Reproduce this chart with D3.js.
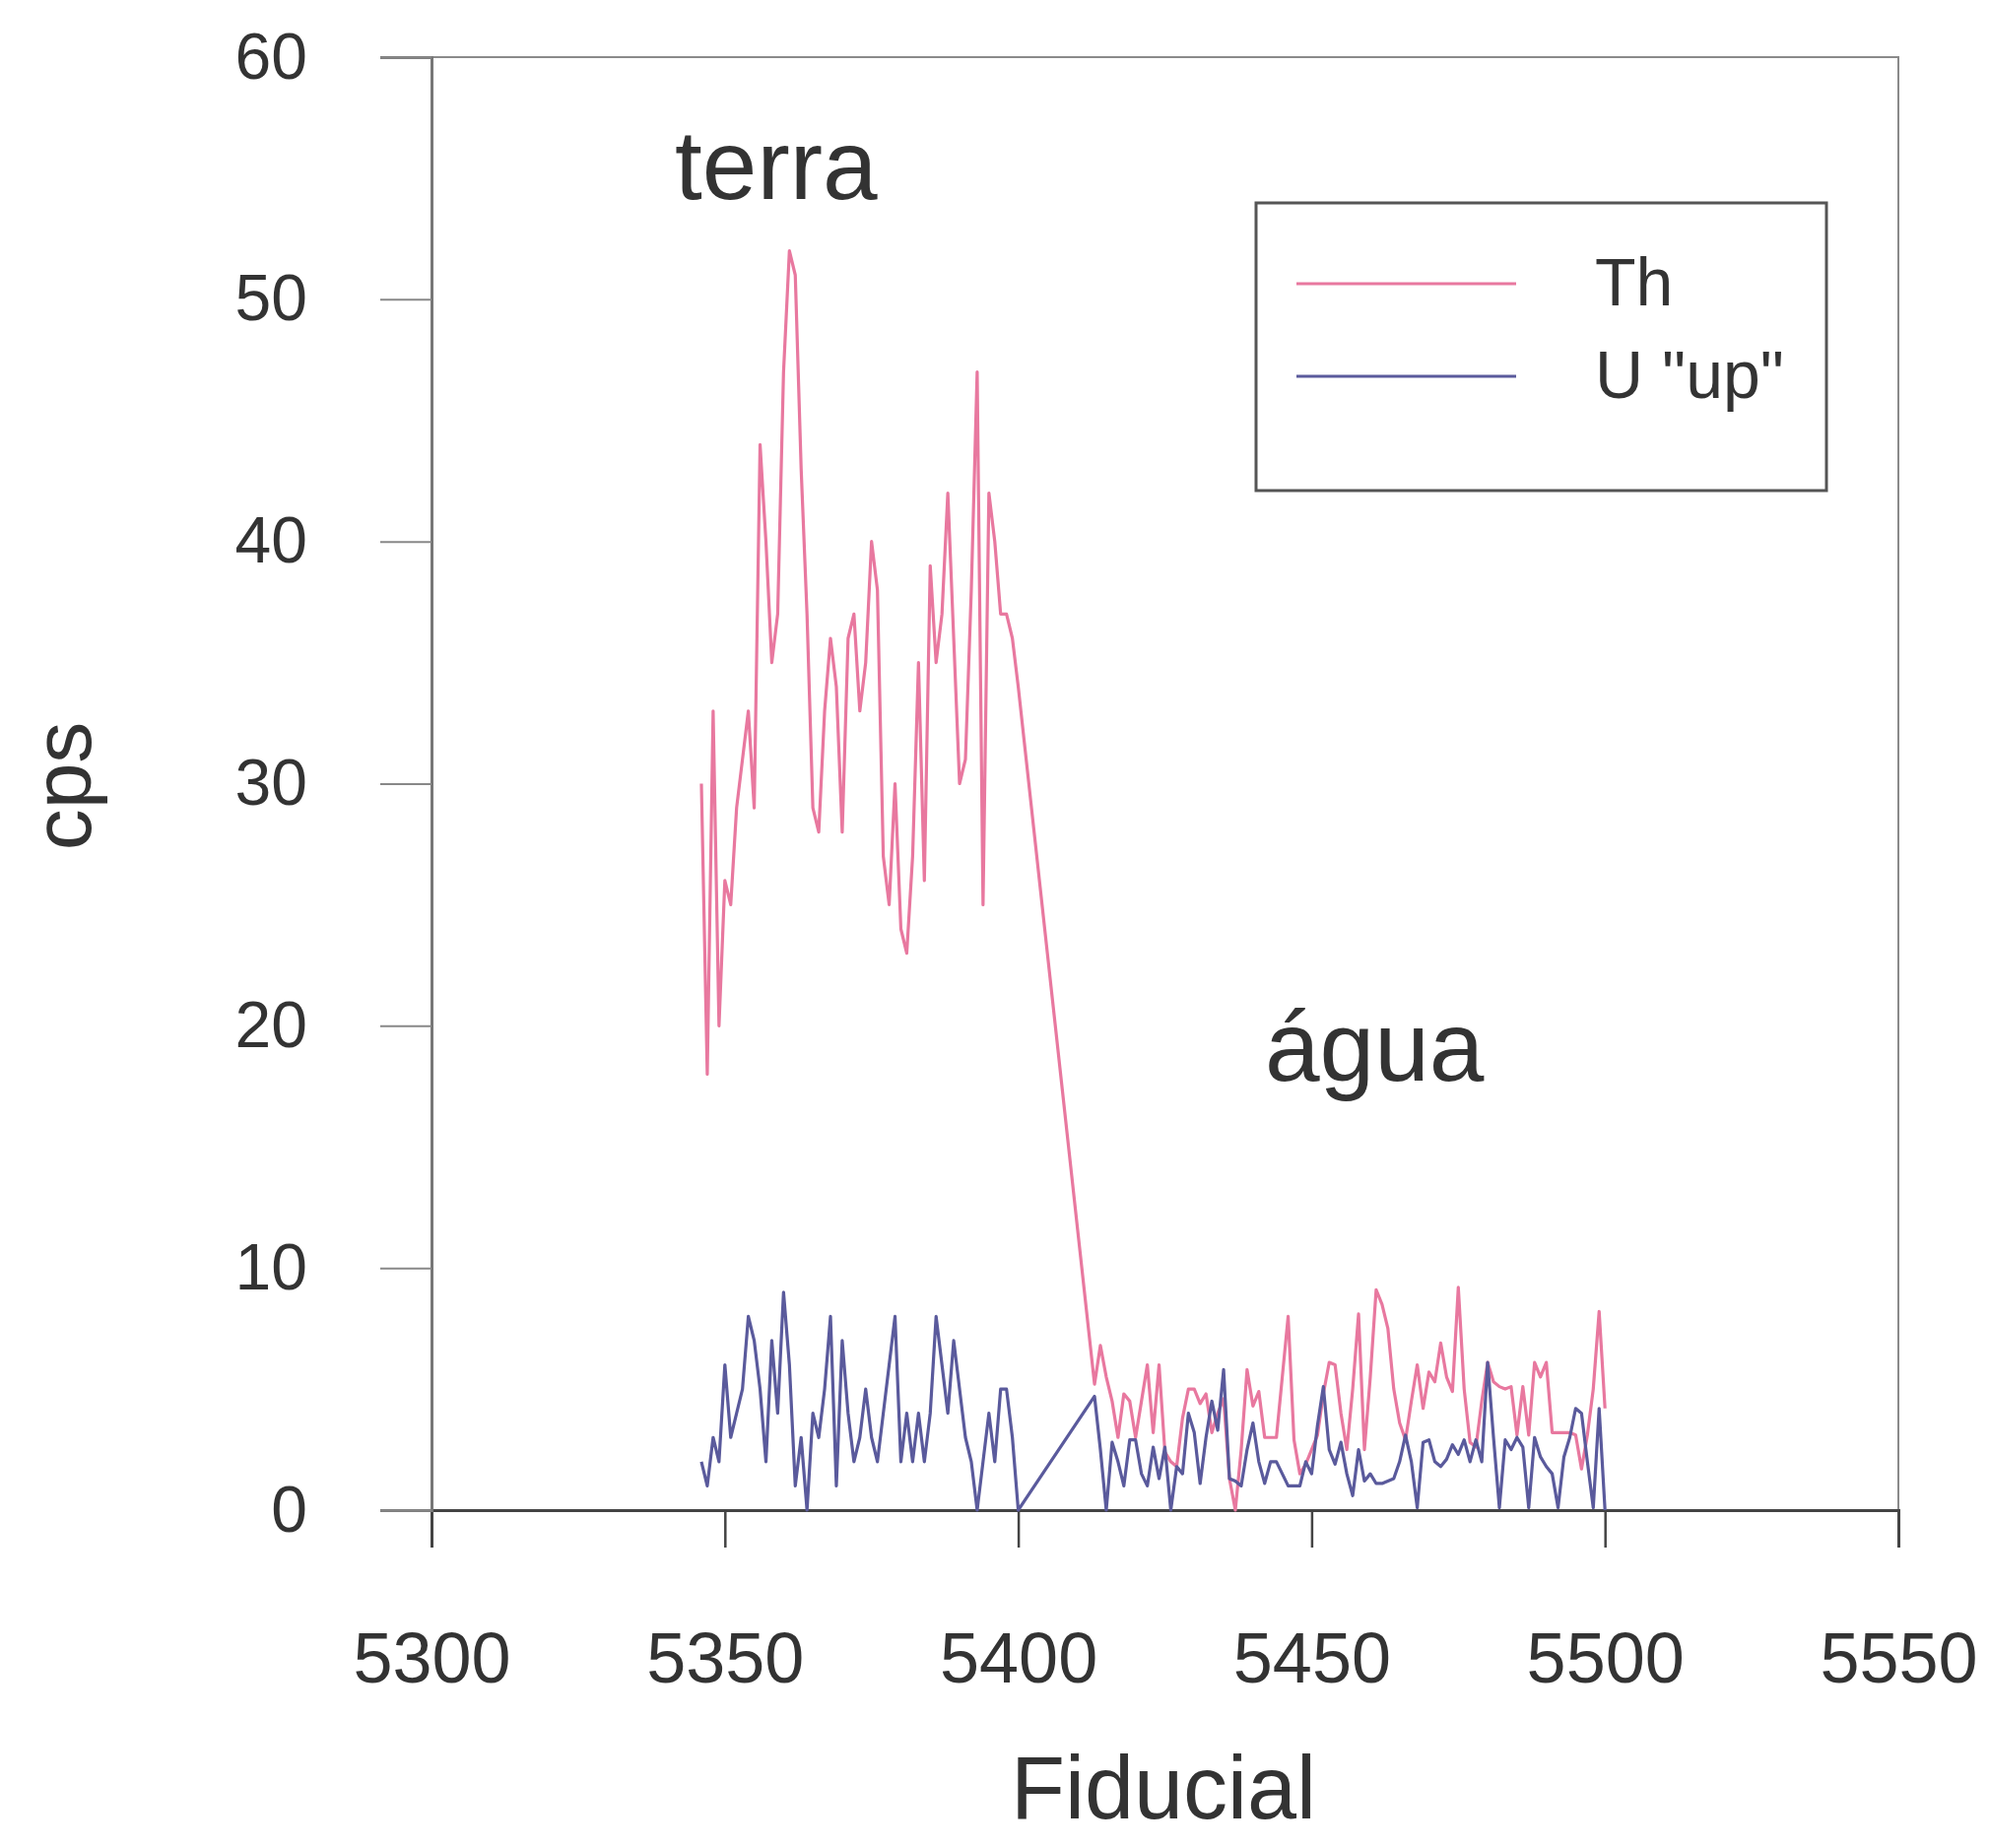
<!DOCTYPE html>
<html>
<head>
<meta charset="utf-8">
<title>Th e U - terra / água</title>
<script src="https://cdn.jsdelivr.net/npm/d3@7"></script>
<style>
  body { margin: 0; background: #fff; }
  svg { display: block; font-family: "Liberation Sans", Arial, sans-serif; }
</style>
</head>
<body>
<svg id="chart"></svg>
<script>
const width = 2019, height = 1876;

// fiducials: land stretch, then a gap (straight join), then water stretch
const fiducialsLand = d3.range(5346, 5401);
const fiducialsWater = d3.range(5413, 5501);

const thLand = [30, 18, 33, 20, 26, 25, 29, 31, 33, 29, 44, 40, 35, 37, 47, 52, 51, 43, 37, 29,
    28, 33, 36, 34, 28, 36, 37, 33, 35, 40, 38, 27, 25, 30, 24, 23, 27, 35, 26, 39,
    35, 37, 42, 36, 30, 31, 38, 47, 25, 42, 40, 37, 37, 36, 34];
const uLand = [2, 1, 3, 2, 6, 3, 4, 5, 8, 7, 5, 2, 7, 4, 9, 6, 1, 3, 0, 4,
    3, 5, 8, 1, 7, 4, 2, 3, 5, 3, 2, 4, 6, 8, 2, 4, 2, 4, 2, 4,
    8, 6, 4, 7, 5, 3, 2, 0, 2, 4, 2, 5, 5, 3, 0];

const thWater = [5.2, 6.8, 5.5, 4.5, 3.0, 4.8, 4.5, 3.0, 4.5, 6.0, 3.2, 6.0, 2.4, 2.0, 1.8, 3.8, 5.0, 5.0, 4.4, 4.8,
    3.2, 4.0, 4.6, 1.3, 0, 2.5, 5.8, 4.3, 4.9, 3.0, 3.0, 3.0, 5.5, 8.0, 2.9, 1.5, 1.9, 2.5, 3.1, 4.8,
    6.1, 6.0, 4.0, 2.5, 5.0, 8.1, 2.5, 5.5, 9.1, 8.5, 7.5, 5.0, 3.6, 2.9, 4.5, 6.0, 4.2, 5.7, 5.3, 6.9,
    5.5, 4.9, 9.2, 5.0, 2.8, 2.6, 4.5, 6.1, 5.3, 5.1, 5.0, 5.1, 3.1, 5.1, 3.1, 6.1, 5.5, 6.1, 3.2, 3.2,
    3.2, 3.2, 3.1, 1.7, 3.1, 5.0, 8.2, 4.2];
const uWater = [4.7, 2.5, 0, 2.8, 2.0, 1.0, 2.9, 2.9, 1.5, 1.0, 2.6, 1.3, 2.6, 0, 1.8, 1.5, 4.0, 3.2, 1.1, 3.0,
    4.5, 3.3, 5.8, 1.3, 1.2, 1.0, 2.5, 3.6, 2.0, 1.1, 2.0, 2.0, 1.5, 1.0, 1.0, 1.0, 2.0, 1.5, 3.5, 5.1,
    2.5, 1.9, 2.8, 1.5, 0.6, 2.5, 1.2, 1.5, 1.1, 1.1, 1.2, 1.3, 2.0, 3.1, 2.0, 0.1, 2.8, 2.9, 2.0, 1.8,
    2.1, 2.7, 2.3, 2.9, 2.0, 2.9, 2.0, 6.1, 3.0, 0.1, 2.9, 2.5, 3.0, 2.6, 0.1, 3.0, 2.2, 1.8, 1.5, 0.1,
    2.2, 3.0, 4.2, 4.0, 2.0, 0.1, 4.2, 0];

const xTicks = [5300, 5350, 5400, 5450, 5500, 5550];
const yTicks = [0, 10, 20, 30, 40, 50, 60];

const seriesNames = ["Th", "U \"up\""];
const seriesColors = ["#e8789f", "#5a5a9c"];
const areaLabels = ["terra", "água"];

// 1. svg
const svg = d3.select("#chart")
    .attr("width", width)
    .attr("height", height);

// 2. scales
const x = d3.scaleLinear().domain([5300, 5550]).range([438, 1927]);
const y = d3.scaleLinear().domain([0, 60]).range([1533, 58]);

const fiducials = fiducialsLand.concat(fiducialsWater);
const series = [thLand.concat(thWater), uLand.concat(uWater)];

// 3. frame (top + right border)
svg.append("rect")
    .attr("x", x(5300))
    .attr("y", y(60))
    .attr("width", x(5550) - x(5300))
    .attr("height", y(0) - y(60))
    .attr("fill", "none")
    .attr("stroke", "#8a8a8a")
    .attr("stroke-width", 2);

// 4. axes
const xAxis = svg.append("g")
    .attr("transform", `translate(0,${y(0)})`)
    .call(d3.axisBottom(x).tickValues(xTicks).tickSize(38).tickPadding(86).tickFormat(d3.format("d")));

const yAxis = svg.append("g")
    .attr("transform", `translate(${x(5300)},0)`)
    .call(d3.axisLeft(y).tickValues(yTicks).tickSize(52).tickPadding(74).tickFormat(d3.format("d")));

xAxis.select(".domain").attr("stroke", "#444").attr("stroke-width", 3);
yAxis.select(".domain").attr("stroke", "#777").attr("stroke-width", 3);
xAxis.selectAll(".tick line").attr("stroke", "#444").attr("stroke-width", 2.5);
yAxis.selectAll(".tick line").attr("stroke", "#888").attr("stroke-width", 2);
xAxis.selectAll(".tick text")
    .attr("fill", "#333")
    .style("font-size", "72px")
    .style("font-family", "Liberation Sans, Arial, sans-serif");
yAxis.selectAll(".tick text")
    .attr("fill", "#333")
    .style("font-size", "66px")
    .style("font-family", "Liberation Sans, Arial, sans-serif");

// 5. lines
const line = d3.line()
    .x((d, i) => x(fiducials[i]))
    .y(d => y(d));

svg.selectAll(".series")
    .data(series)
    .join("path")
    .attr("class", "series")
    .attr("d", line)
    .attr("fill", "none")
    .attr("stroke", (d, i) => seriesColors[i])
    .attr("stroke-width", 3.2)
    .attr("stroke-linejoin", "round");

// 6. axis titles
svg.append("text")
    .attr("transform", `translate(92,798) rotate(-90)`)
    .attr("text-anchor", "middle")
    .attr("fill", "#333")
    .style("font-size", "84px")
    .text("cps");

svg.append("text")
    .attr("x", 1181)
    .attr("y", 1846)
    .attr("text-anchor", "middle")
    .attr("fill", "#333")
    .style("font-size", "90px")
    .text("Fiducial");

// 7. area labels
svg.append("text")
    .attr("x", 685).attr("y", 202)
    .attr("fill", "#333")
    .style("font-size", "100px")
    .text(areaLabels[0]);

svg.append("text")
    .attr("x", 1284).attr("y", 1097)
    .attr("fill", "#333")
    .style("font-size", "100px")
    .text(areaLabels[1]);

// 8. legend
const legend = svg.append("g");
legend.append("rect")
    .attr("x", 1275).attr("y", 206)
    .attr("width", 579).attr("height", 292)
    .attr("fill", "#fff")
    .attr("stroke", "#555")
    .attr("stroke-width", 3);

const legendRows = legend.selectAll(".row")
    .data(seriesNames)
    .join("g")
    .attr("class", "row")
    .attr("transform", (d, i) => `translate(0,${288 + i * 94})`);

legendRows.append("line")
    .attr("x1", 1316).attr("x2", 1539)
    .attr("stroke", (d, i) => seriesColors[i])
    .attr("stroke-width", 3);

legendRows.append("text")
    .attr("x", 1619).attr("y", 22)
    .attr("fill", "#333")
    .style("font-size", "68px")
    .text(d => d);
</script>
</body>
</html>
